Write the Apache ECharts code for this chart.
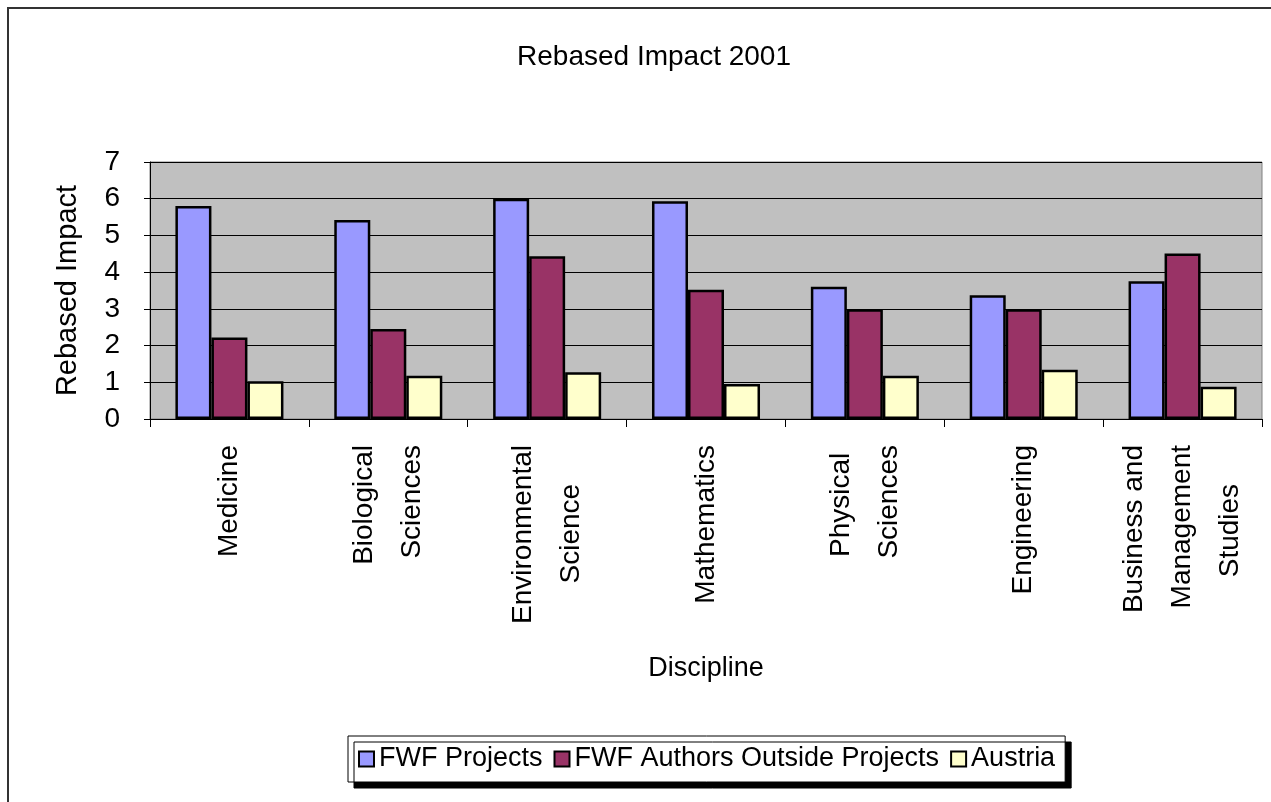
<!DOCTYPE html>
<html>
<head>
<meta charset="utf-8">
<script src="https://cdn.jsdelivr.net/npm/echarts@6/dist/echarts.min.js"></script>
<style>
  html, body { margin: 0; padding: 0; background: #fff; }
  #main { width: 1271px; height: 802px; }
</style>
</head>
<body>
<div id="main"></div>
<script>
// disciplines (line breaks as in the original labels)
var categories = ['Medicine', 'Biological\nSciences', 'Environmental\nScience', 'Mathematics',
    'Physical\nSciences', 'Engineering', 'Business and\nManagement\nStudies'];
var fwfProjects = [5.8, 5.42, 6.0, 5.93, 3.6, 3.37, 3.75];
var fwfOutside = [2.22, 2.45, 4.43, 3.52, 2.99, 2.99, 4.51];
var austria = [1.03, 1.18, 1.27, 0.95, 1.18, 1.34, 0.88];
var yTicks = [0, 7, 1];   // min, max, step

var FONT = 'Liberation Sans';
var LABEL_SIZE = 28;

// rotated labels are right aligned line by line; trailing spaces pull the
// shorter lines in so each block looks centred like the original
var ctx = document.createElement('canvas').getContext('2d');
ctx.font = LABEL_SIZE + 'px "' + FONT + '"';
var spaceW = ctx.measureText(' ').width;
function centreLines(label) {
    var lines = label.split('\n');
    var widths = lines.map(function (s) { return ctx.measureText(s).width; });
    var maxW = Math.max.apply(null, widths);
    return lines.map(function (s, i) {
        var n = Math.round((maxW - widths[i]) / 2 / spaceW);
        return s + new Array(n + 1).join(' ');
    }).join('\n');
}

var barStyle = function (color) {
    return {color: color, borderColor: '#000', borderWidth: 2.5};
};

var option = {
    animation: false,
    backgroundColor: '#fff',
    textStyle: {fontFamily: FONT, color: '#000'},
    title: {
        text: 'Rebased Impact 2001',
        left: 649,
        top: 38,
        textAlign: 'center',
        textStyle: {fontFamily: FONT, fontSize: 28, fontWeight: 'normal', color: '#000'}
    },
    legend: {
        left: 348,
        top: 736,
        padding: [8, 10],
        itemGap: 11,
        itemWidth: 15,
        itemHeight: 15,
        icon: 'rect',
        backgroundColor: '#fff',
        borderColor: '#000',
        borderWidth: 1,
        borderRadius: 0,
        shadowColor: '#000',
        shadowBlur: 0,
        shadowOffsetX: 6,
        shadowOffsetY: 6,
        textStyle: {fontFamily: FONT, fontSize: 27, color: '#000', lineHeight: 30},
        data: ['FWF Projects', 'FWF Authors Outside Projects', 'Austria']
    },
    grid: {
        left: 150, right: 9, top: 162, height: 257,
        outerBoundsMode: 'none',
        show: true,
        backgroundColor: '#c0c0c0',
        borderColor: '#808080',
        borderWidth: 1
    },
    xAxis: {
        type: 'category',
        data: categories,
        name: 'Discipline',
        nameLocation: 'middle',
        nameGap: 236,
        nameMoveOverlap: false,
        nameTextStyle: {fontFamily: FONT, fontSize: 27, color: '#000'},
        axisLine: {lineStyle: {color: '#000', width: 1}},
        axisTick: {show: true, length: 8, lineStyle: {color: '#000'}},
        axisLabel: {
            interval: 0,
            rotate: 90,
            margin: 26,
            lineHeight: 48,
            fontFamily: FONT,
            fontSize: LABEL_SIZE,
            color: '#000',
            formatter: centreLines
        }
    },
    yAxis: {
        type: 'value',
        min: yTicks[0],
        max: yTicks[1],
        interval: yTicks[2],
        name: 'Rebased Impact',
        nameLocation: 'middle',
        nameGap: 68,
        nameTextStyle: {fontFamily: FONT, fontSize: 29, color: '#000'},
        axisLine: {show: true, lineStyle: {color: '#000', width: 1}},
        axisTick: {show: true, length: 6, lineStyle: {color: '#000'}},
        axisLabel: {margin: 30, fontFamily: FONT, fontSize: 28, color: '#000'},
        splitLine: {lineStyle: {color: '#000', width: 1}}
    },
    graphic: [{
        type: 'polyline',
        shape: {points: [[8, 802], [8, 8], [1271, 8]]},
        style: {stroke: '#333', lineWidth: 2, fill: null},
        silent: true
    }],
    series: [
        {name: 'FWF Projects', type: 'bar', data: fwfProjects, barGap: '0%', barCategoryGap: '32%',
            itemStyle: barStyle('#9999ff')},
        {name: 'FWF Authors Outside Projects', type: 'bar', data: fwfOutside, barGap: '0%', barCategoryGap: '32%',
            itemStyle: barStyle('#993366')},
        {name: 'Austria', type: 'bar', data: austria, barGap: '0%', barCategoryGap: '32%',
            itemStyle: barStyle('#ffffcc')}
    ]
};

echarts.init(document.getElementById('main')).setOption(option);
</script>
</body>
</html>
